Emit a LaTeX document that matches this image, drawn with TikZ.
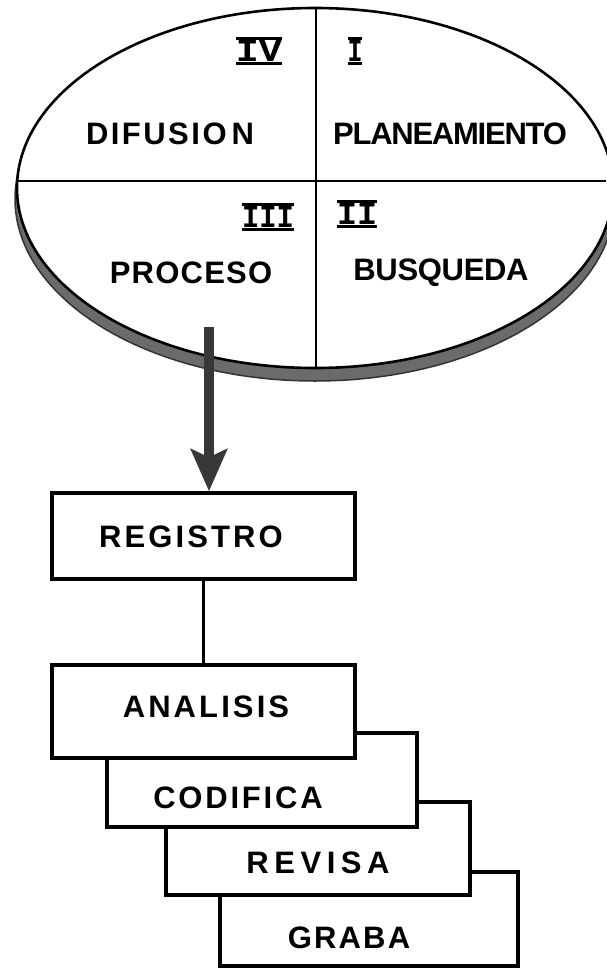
\documentclass[tikz,border=0pt]{standalone}
\usepackage{fontspec}
\setmainfont{Liberation Sans}
\newfontfamily\numfont{Liberation Mono}
\usetikzlibrary{arrows.meta}

\newcommand\barred[2][1]{%
  \setbox0=\hbox{\scalebox{#1}[1]{#2}}%
  \vbox{\hrule height 3pt width \wd0\kern0.5pt\box0\kern0.5pt\hrule height 3pt}}

\begin{document}
\begin{tikzpicture}[x=1pt, y=-1pt, line width=2.6pt,
    word/.style={inner sep=0, font=\bfseries\fontsize{31}{31}\selectfont\addfontfeatures{LetterSpace=#1}},
    word/.default=0,
    numeral/.style={inner sep=0, font=\numfont\bfseries\fontsize{32}{32}\selectfont},
    box/.style={draw, fill=white, line width=3.4pt, inner sep=0}]

    \useasboundingbox (0,0) rectangle (606,969);

    \filldraw[fill=black!58, draw=black!80, line width=1.5pt] (315,199) ellipse [x radius=300, y radius=182];
    \draw[fill=white] (315,188) ellipse [x radius=298, y radius=180];
    \begin{scope}
        \clip (315,188) ellipse [x radius=298, y radius=180];
        \draw (0,181) -- (606,181);
        \draw (316,0) -- (316,400);
    \end{scope}

    \node[box, minimum width=298, minimum height=94] (graba) at (369,919) {};
    \node[box, minimum width=304, minimum height=93] (revisa) at (318,848.5) {};
    \node[box, minimum width=310, minimum height=94] (codifica) at (262,780) {};
    \node[box, minimum width=303, minimum height=93] (analisis) at (203.5,711.5) {};
    \node[box, minimum width=303, minimum height=86] (registro) at (203.5,536) {};

    \coordinate (tail) at (209,327);
    \draw[line width=10pt, black!78, -{Stealth[length=42pt, width=36pt, inset=8pt]}] (tail) -- (tail |- registro.north);
    \draw[line width=2.8pt] (registro.south) -- (analisis.north);

    \node[numeral] (iv) at (259,51) {\barred[1.2]{IV}};
    \node[numeral] (i) at (355,51) {\barred[0.78]{I}};
    \node[numeral] (iii) at (268,217) {\barred[0.9]{III}};
    \node[numeral] (ii) at (357,214) {\barred[1.04]{II}};

    \node[word=8] (difusiontext) at (170,134) {DIFUSIO\kern5pt N};
    \node[word=-4] (planeamientotext) at (450,134) {PLANEAMIENTO};
    \node[word=4] (procesotext) at (191,273) {PROCESO};
    \node[word=-1] (busquedatext) at (441,273) {BUSQUEDA};

    \node[word=10] (registrotext) at (191,537) {REGISTRO};
    \node[word=10] (analisistext) at (206,707) {ANALISIS};
    \node[word=9] (codificatext) at (238,798) {CODIFICA};
    \node[word=18] (revisatext) at (318,863) {REVISA};
    \node[word=7] (grabatext) at (349,938) {GRABA};
\end{tikzpicture}
\end{document}
